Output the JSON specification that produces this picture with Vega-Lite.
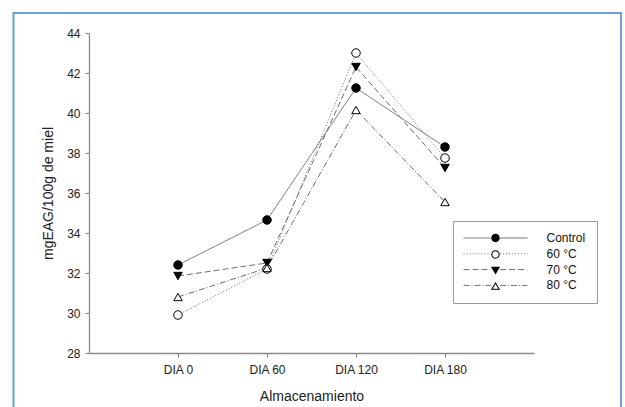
{
  "$schema": "https://vega.github.io/schema/vega-lite/v6.json",
  "width": 445,
  "height": 320,
  "autosize": {"type": "none"},
  "padding": {"left": 89, "top": 33, "right": 91, "bottom": 54},
  "background": "white",
  "config": {
    "view": {"stroke": null},
    "font": "Liberation Sans",
    "axis": {
      "domainColor": "#8a8a8a",
      "tickColor": "#8a8a8a",
      "domainWidth": 1.3,
      "tickWidth": 1.2,
      "tickSize": 4,
      "labelColor": "#222222",
      "labelFontSize": 12,
      "labelFont": "Liberation Sans",
      "titleFont": "Liberation Sans",
      "titleFontSize": 14,
      "titleFontWeight": "normal",
      "titleColor": "#222222",
      "labelOverlap": false,
      "grid": false
    }
  },
  "data": {
    "values": [
      {"dia": 0, "serie": "Control", "v": 32.4},
      {"dia": 60, "serie": "Control", "v": 34.65},
      {"dia": 120, "serie": "Control", "v": 41.25},
      {"dia": 180, "serie": "Control", "v": 38.3},
      {"dia": 0, "serie": "60 °C", "v": 29.9},
      {"dia": 60, "serie": "60 °C", "v": 32.2},
      {"dia": 120, "serie": "60 °C", "v": 43.0},
      {"dia": 180, "serie": "60 °C", "v": 37.75},
      {"dia": 0, "serie": "70 °C", "v": 31.85},
      {"dia": 60, "serie": "70 °C", "v": 32.5},
      {"dia": 120, "serie": "70 °C", "v": 42.3},
      {"dia": 180, "serie": "70 °C", "v": 37.25},
      {"dia": 0, "serie": "80 °C", "v": 30.8},
      {"dia": 60, "serie": "80 °C", "v": 32.25},
      {"dia": 120, "serie": "80 °C", "v": 40.15},
      {"dia": 180, "serie": "80 °C", "v": 35.55}
    ]
  },
  "resolve": {"scale": {"shape": "independent"}},
  "layer": [
    {
      "mark": {"type": "line", "color": "#6e6e6e", "strokeWidth": 1},
      "encoding": {
        "x": {
          "field": "dia",
          "type": "quantitative",
          "scale": {"domain": [-60, 240]},
          "axis": {
            "values": [0, 60, 120, 180],
            "labelExpr": "'DIA ' + datum.value",
            "title": "Almacenamiento",
            "labelPadding": 7,
            "titlePadding": 14
          }
        },
        "y": {
          "field": "v",
          "type": "quantitative",
          "scale": {"domain": [28, 44]},
          "axis": {
            "values": [28, 30, 32, 34, 36, 38, 40, 42, 44],
            "tickCount": 9,
            "labelOverlap": false,
            "title": "mgEAG/100g de miel",
            "labelPadding": 5,
            "titlePadding": 11
          }
        },
        "strokeDash": {
          "field": "serie",
          "type": "nominal",
          "sort": ["Control", "60 °C", "70 °C", "80 °C"],
          "scale": {"range": [[1, 0], [1, 2], [6, 3], [6, 2, 1, 2]]},
          "legend": {
            "orient": "none",
            "legendX": 364,
            "legendY": 188,
            "title": null,
            "padding": 11,
            "strokeColor": "#9a9a9a",
            "symbolType": "M-16,0L-2.3,0M2.3,0L16,0",
            "symbolSize": 16,
            "symbolStrokeWidth": 1,
            "symbolStrokeColor": "#6e6e6e",
            "symbolOffset": 25.5,
            "labelOffset": 45,
            "labelFontSize": 12,
            "labelColor": "#111111",
            "rowPadding": 3.8,
            "zindex": 2
          }
        }
      }
    },
    {
      "mark": {"type": "point", "filled": true, "stroke": "black", "strokeWidth": 1, "size": 72, "opacity": 1},
      "encoding": {
        "x": {"field": "dia", "type": "quantitative"},
        "y": {"field": "v", "type": "quantitative"},
        "shape": {
          "field": "serie",
          "type": "nominal",
          "sort": ["Control", "60 °C", "70 °C", "80 °C"],
          "scale": {"range": ["circle", "circle", "triangle-down", "triangle-up"]},
          "legend": null
        },
        "fill": {
          "field": "serie",
          "type": "nominal",
          "sort": ["Control", "60 °C", "70 °C", "80 °C"],
          "scale": {"range": ["black", "white", "black", "white"]},
          "legend": null
        }
      }
    },
    {
      "transform": [{"filter": "false"}],
      "mark": {"type": "point", "filled": true, "color": "black", "size": 16, "opacity": 1},
      "encoding": {
        "x": {"field": "dia", "type": "quantitative"},
        "y": {"field": "v", "type": "quantitative"},
        "shape": {
          "field": "serie",
          "type": "nominal",
          "scale": {
            "domain": ["Control", "60 °C", "70 °C", "80 °C"],
            "range": [
              "M2.1,0A2.1 2.1 0 1 1 -2.1,0A2.1 2.1 0 1 1 2.1,0Z",
              "M2.1,0A2.1 2.1 0 1 1 -2.1,0A2.1 2.1 0 1 1 2.1,0ZM1.6,0A1.6 1.6 0 1 0 -1.6,0A1.6 1.6 0 1 0 1.6,0Z",
              "M-2.3,-1.6L2.3,-1.6L0,2.2Z",
              "M0,-2.2L2.3,1.6L-2.3,1.6ZM0,-1.23L-1.41,1.1L1.41,1.1Z"
            ]
          },
          "legend": {
            "orient": "none",
            "legendX": 364,
            "legendY": 188,
            "title": null,
            "padding": 11,
            "symbolSize": 16,
            "symbolFillColor": "black",
            "symbolOffset": 25.5,
            "labelOffset": 45,
            "labelFontSize": 12,
            "labelExpr": "' '",
            "rowPadding": 0.5,
            "zindex": 1
          }
        }
      }
    },
    {
      "data": {"values": [{}]},
      "mark": {"type": "rect", "fill": null, "stroke": "#6b9fd6", "strokeWidth": 2},
      "encoding": {
        "x": {
          "datum": -110.9,
          "type": "quantitative",
          "axis": {
            "values": [0, 60, 120, 180],
            "labelExpr": "'DIA ' + datum.value",
            "title": "Almacenamiento",
            "labelPadding": 7,
            "titlePadding": 14
          }
        },
        "x2": {"datum": 298.7},
        "y": {
          "datum": 45,
          "type": "quantitative",
          "axis": {
            "values": [28, 30, 32, 34, 36, 38, 40, 42, 44],
            "tickCount": 9,
            "labelOverlap": false,
            "title": "mgEAG/100g de miel",
            "labelPadding": 5,
            "titlePadding": 11
          }
        },
        "y2": {"datum": 25}
      }
    }
  ]
}
